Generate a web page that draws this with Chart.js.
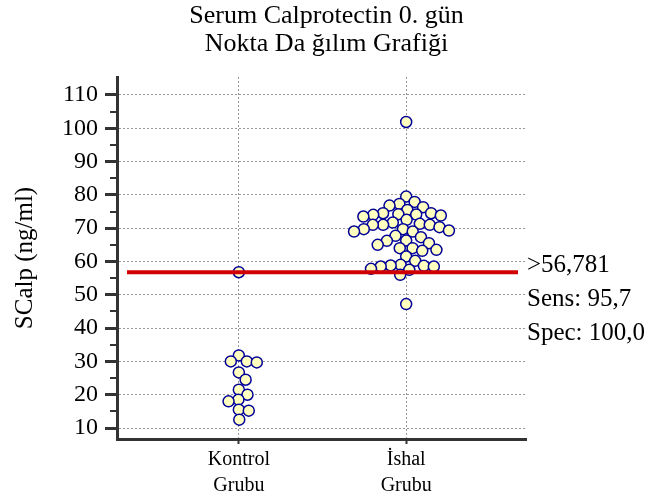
<!DOCTYPE html>
<html>
<head>
<meta charset="utf-8">
<script src="https://cdn.jsdelivr.net/npm/chart.js@4"></script>
<style>
  html, body { margin: 0; padding: 0; background: #fff; }
  #wrap { width: 653px; height: 499px; }
</style>
</head>
<body>
<div id="wrap"><canvas id="dotChart" width="653" height="499"></canvas></div>
<script>
// groups on the x axis
const groups = ['Kontrol', 'İshal'];
const groupLabels = [['Kontrol', 'Grubu'], ['İshal', 'Grubu']];

// SCalp values (ng/ml)
const kontrolValues = [56.78, 31.8, 30.0, 30.0, 29.7, 26.7, 24.5, 21.5, 20.0, 18.5, 18.0, 15.5, 15.2, 12.5];
const ishalValues = [
    101.9, 79.5, 77.9, 77.3, 76.8, 76.3, 75.5,
    74.5, 74.5, 74.2, 74.1, 74.0, 73.8, 73.5,
    72.5, 71.7, 71.3, 71.0, 71.0, 71.0,
    70.3, 69.7, 69.7, 69.3, 69.0, 69.0,
    67.7, 67.3, 66.3, 66.2, 65.5, 65.0,
    64.0, 64.0, 63.5, 63.2, 61.5, 60.2,
    59.0, 58.8, 58.7, 58.5, 58.5,
    57.8, 57.5, 56.0, 47.2
];

const yTicks = [10, 20, 30, 40, 50, 60, 70, 80, 90, 100, 110];
const cutoff = 56.781;
const cutoffNotes = ['>56,781', 'Sens: 95,7', 'Spec: 100,0'];

const serif = "'Liberation Serif', 'Times New Roman', serif";

// simple beeswarm: put each point as near the group centre as it can go
function swarm(pix, d) {
    const order = pix.map((p, i) => i).sort((a, b) => pix[a] - pix[b]);
    const placed = [];
    const off = new Array(pix.length);
    for (const i of order) {
        const y = pix[i];
        const near = placed.filter(p => Math.abs(p.y - y) < d);
        const cands = [0];
        near.forEach(p => {
            const dx = Math.sqrt(d * d - (p.y - y) * (p.y - y));
            cands.push(p.x + dx, p.x - dx);
        });
        cands.sort((a, b) => Math.abs(a) - Math.abs(b));
        const x = cands.find(c => near.every(p => (p.x - c) ** 2 + (p.y - y) ** 2 >= d * d - 0.01));
        off[i] = x;
        placed.push({ x: x, y: y });
    }
    return off;
}

const overlay = {
    id: 'overlay',
    afterDatasetsDraw(chart) {
        const ctx = chart.ctx;
        const area = chart.chartArea;
        const ys = chart.scales.y;

        // minor ticks half way between labelled ones
        ctx.save();
        ctx.strokeStyle = '#333';
        ctx.lineWidth = 2;
        for (let i = 0; i < yTicks.length - 1; i++) {
            const py = Math.round(ys.getPixelForValue((yTicks[i] + yTicks[i + 1]) / 2));
            ctx.beginPath();
            ctx.moveTo(area.left - 7, py);
            ctx.lineTo(area.left, py);
            ctx.stroke();
        }

        // cut-off line
        const yc = ys.getPixelForValue(cutoff);
        ctx.strokeStyle = '#d00000';
        ctx.lineWidth = 4;
        ctx.beginPath();
        ctx.moveTo(area.left + 10, yc);
        ctx.lineTo(area.right - 8, yc);
        ctx.stroke();

        // criterion text
        ctx.fillStyle = '#000';
        ctx.font = '25px ' + serif;
        ctx.textAlign = 'left';
        ctx.textBaseline = 'alphabetic';
        cutoffNotes.forEach((t, i) => {
            ctx.fillText(t, area.right + 1, yc + i * 34);
        });
        ctx.restore();
    }
};

const ctx = document.getElementById('dotChart').getContext('2d');
const dotChart = new Chart(ctx, {
    type: 'scatter',
    data: {
        datasets: [
            { label: groups[0], data: kontrolValues.map(v => ({ x: 1, y: v })) },
            { label: groups[1], data: ishalValues.map(v => ({ x: 2, y: v })) }
        ]
    },
    options: {
        responsive: false,
        animation: false,
        layout: { padding: 0 },
        elements: {
            point: {
                radius: 5.5,
                borderWidth: 1.5,
                backgroundColor: '#ffffc0',
                borderColor: '#000099'
            }
        },
        plugins: {
            legend: { display: false },
            tooltip: { enabled: false },
            title: {
                display: true,
                text: ['Serum Calprotectin 0. gün', 'Nokta Da ğılım Grafiği'],
                color: '#000',
                font: { family: serif, size: 26, weight: 'normal', lineHeight: 28 / 26 },
                padding: { top: 2, bottom: 19 }
            }
        },
        scales: {
            x: {
                type: 'linear',
                min: 0.272,
                max: 2.716,
                afterBuildTicks: s => { s.ticks = groups.map((g, i) => ({ value: i + 1 })); },
                afterFit: s => { s.height = 60; },
                ticks: {
                    callback: v => groupLabels[v - 1],
                    color: '#000',
                    font: { family: serif, size: 20, lineHeight: 1.3 },
                    padding: 3,
                    maxRotation: 0,
                    autoSkip: false
                },
                grid: { color: '#999', lineWidth: 1, tickLength: 5, tickWidth: 2, tickColor: '#333', tickBorderDash: [] },
                border: { color: '#333', width: 3, dash: [2, 2] }
            },
            y: {
                min: 6.7,
                max: 115.4,
                afterBuildTicks: s => { s.ticks = yTicks.map(v => ({ value: v })); },
                afterFit: s => { s.width = 117; },
                title: {
                    display: true,
                    text: 'SCalp (ng/ml)',
                    color: '#000',
                    font: { family: serif, size: 25, weight: 'normal', lineHeight: 1.2 },
                    padding: { top: 10, bottom: 0 }
                },
                ticks: {
                    color: '#000',
                    font: { family: serif, size: 24 },
                    padding: 7
                },
                grid: { color: '#999', lineWidth: 1, tickLength: 12, tickWidth: 3, tickColor: '#333', tickBorderDash: [] },
                border: { color: '#333', width: 3, dash: [2, 2] }
            },
            // empty strip on the right for the criterion text
            side: {
                position: 'right',
                min: 0,
                max: 1,
                afterFit: s => { s.width = 127; },
                ticks: { display: false },
                grid: { display: false, drawTicks: false },
                border: { display: false }
            }
        }
    },
    plugins: [overlay]
});

// spread the dots sideways now that the scales are known
const xs = dotChart.scales.x, ys = dotChart.scales.y;
const unit = xs.getPixelForValue(2) - xs.getPixelForValue(1);
dotChart.data.datasets.forEach((ds, k) => {
    const off = swarm(ds.data.map(p => ys.getPixelForValue(p.y)), 10);
    ds.data.forEach((p, i) => { p.x = k + 1 + off[i] / unit; });
});
dotChart.update();
</script>
</body>
</html>
